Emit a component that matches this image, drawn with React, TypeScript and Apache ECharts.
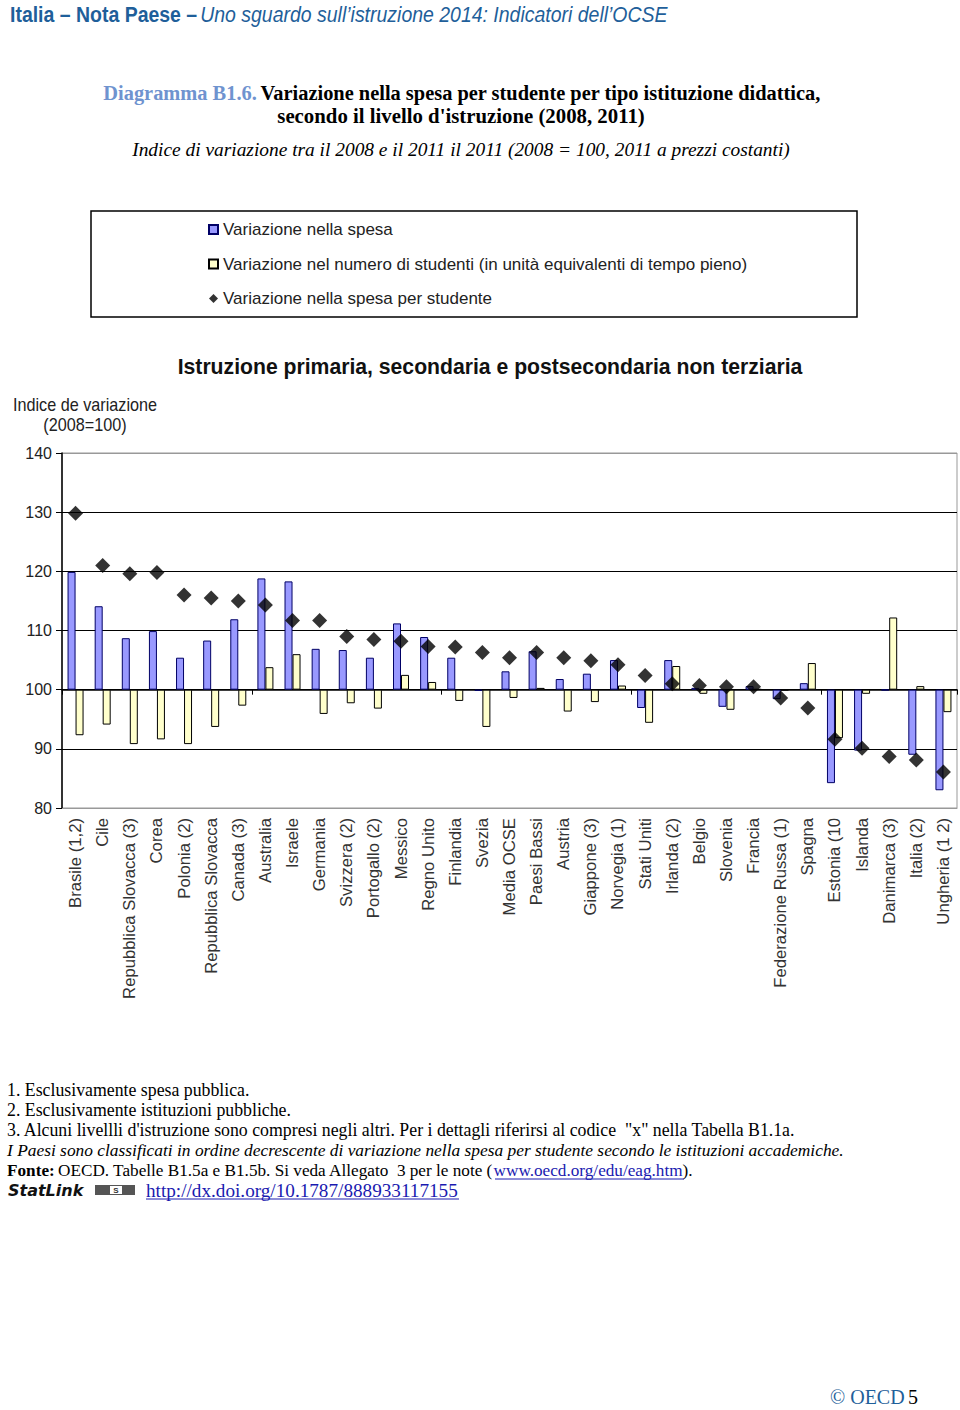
import React, { useEffect, useRef } from "react";
import * as echarts from "echarts";

const categories = [
  "Brasile (1,2)", "Cile", "Repubblica Slovacca (3)", "Corea", "Polonia (2)",
  "Repubblica Slovacca", "Canada (3)", "Australia", "Israele", "Germania",
  "Svizzera (2)", "Portogallo (2)", "Messico", "Regno Unito", "Finlandia",
  "Svezia", "Media OCSE", "Paesi Bassi", "Austria", "Giappone (3)",
  "Norvegia (1)", "Stati Uniti", "Irlanda (2)", "Belgio", "Slovenia",
  "Francia", "Federazione Russa (1)", "Spagna", "Estonia (10", "Islanda",
  "Danimarca (3)", "Italia (2)", "Ungheria (1 2)",
];

const spesa = [
  119.9, 114.1, 108.7, 109.9, 105.4, 108.3, 111.9, 118.8, 118.3, 106.9,
  106.7, 105.4, 111.2, 108.9, 105.4, 99.8, 103.1, 106.5, 101.8, 102.7,
  105.0, 96.9, 105.0, 100.3, 97.1, 100.6, 98.4, 101.1, 84.2, 89.7,
  99.9, 89.0, 83.0,
];

const studenti = [
  92.3, 94.1, 90.8, 91.6, 90.8, 93.7, 97.3, 103.8, 106.0, 95.9,
  97.7, 96.8, 102.5, 101.3, 98.1, 93.7, 98.6, 100.3, 96.3, 97.9,
  100.7, 94.4, 104.0, 99.3, 96.6, 100.1, 99.9, 104.5, 91.8, 99.3,
  112.2, 100.6, 96.2,
];

const perStudente = [
  129.8, 121.0, 119.6, 119.8, 116.0, 115.5, 115.0, 114.3, 111.7, 111.7,
  109.0, 108.5, 108.2, 107.3, 107.2, 106.3, 105.4, 106.3, 105.4, 104.9,
  104.2, 102.4, 101.0, 100.7, 100.5, 100.5, 98.6, 96.9, 91.6, 90.1,
  88.7, 88.1, 86.1,
];

const seriesNames = [
  "Variazione nella spesa",
  "Variazione nel numero di studenti (in unità equivalenti di tempo pieno)",
  "Variazione nella spesa per studente",
];

const BASE = 100;
const yTicks = [80, 90, 100, 110, 120, 130, 140];

const footnotes = [
  "1. Esclusivamente spesa pubblica.",
  "2. Esclusivamente istituzioni pubbliche.",
  "3. Alcuni livellli d'istruzione sono compresi negli altri. Per i dettagli riferirsi al codice  \"x\" nella Tabella B1.1a.",
];
const noteItalic =
  "I Paesi sono classificati in ordine decrescente di variazione nella spesa per studente secondo le istituzioni accademiche.";

const SANS = "'Liberation Sans', Arial, sans-serif";
const SERIF = "'Liberation Serif', 'Times New Roman', serif";
const BLUE = "#1f5f9a";
const LINK = "#1a1ab0";

export default function App() {
  const ref = useRef<HTMLDivElement>(null);

  useEffect(() => {
    if (!ref.current) return;
    const chart = echarts.init(ref.current, undefined, { renderer: "svg" });

    const delta = (arr: number[]) => arr.map((v) => +(v - BASE).toFixed(2));

    const graphic: any[] = [
      {
        type: "text",
        x: 10,
        y: 14,
        scaleX: 0.885,
        style: {
          text: "{b|Italia – Nota Paese –} {i|Uno sguardo sull’istruzione 2014: Indicatori dell’OCSE}",
          textVerticalAlign: "middle",
          rich: {
            b: { fontFamily: SANS, fontWeight: "bold", fontSize: 22, fill: BLUE },
            i: { fontFamily: SANS, fontStyle: "italic", fontSize: 22, fill: BLUE },
          },
        },
      },
      {
        type: "text",
        x: 462,
        y: 93,
        style: {
          text: "{a|Diagramma B1.6.} {b|Variazione nella spesa per studente per tipo istituzione didattica,}",
          textAlign: "center",
          textVerticalAlign: "middle",
          rich: {
            a: { fontFamily: SERIF, fontWeight: "bold", fontSize: 20.4, fill: "#6f93cf" },
            b: { fontFamily: SERIF, fontWeight: "bold", fontSize: 20.4, fill: "#000" },
          },
        },
      },
      {
        type: "text",
        x: 461,
        y: 115,
        style: {
          text: "secondo il livello d'istruzione (2008, 2011)",
          textAlign: "center",
          textVerticalAlign: "middle",
          font: `bold 20.8px ${SERIF}`,
          fill: "#000",
        },
      },
      {
        type: "text",
        x: 461,
        y: 149,
        style: {
          text: "Indice di variazione tra il 2008 e il 2011 il 2011 (2008 = 100, 2011 a prezzi costanti)",
          textAlign: "center",
          textVerticalAlign: "middle",
          font: `italic 19.4px ${SERIF}`,
          fill: "#000",
        },
      },
      {
        type: "rect",
        shape: { x: 91, y: 211, width: 766, height: 106 },
        style: { fill: "none", stroke: "#000", lineWidth: 1.5 },
      },
      {
        type: "text",
        x: 490,
        y: 366,
        scaleX: 0.963,
        style: {
          text: "Istruzione primaria, secondaria e postsecondaria non terziaria",
          textAlign: "center",
          textVerticalAlign: "middle",
          font: `bold 22px ${SANS}`,
          fill: "#111",
        },
      },
      {
        type: "text",
        x: 85,
        y: 405,
        scaleX: 0.9,
        style: {
          text: "Indice de variazione",
          textAlign: "center",
          textVerticalAlign: "middle",
          font: `18px ${SANS}`,
          fill: "#222",
        },
      },
      {
        type: "text",
        x: 85,
        y: 425,
        scaleX: 0.9,
        style: {
          text: "(2008=100)",
          textAlign: "center",
          textVerticalAlign: "middle",
          font: `18px ${SANS}`,
          fill: "#222",
        },
      },
    ];

    footnotes.forEach((t, i) => {
      graphic.push({
        type: "text",
        x: 7,
        y: 1090 + i * 20,
        style: { text: t, textVerticalAlign: "middle", font: `17.8px ${SERIF}`, fill: "#000" },
      });
    });
    graphic.push({
      type: "text",
      x: 7,
      y: 1150,
      style: { text: noteItalic, textVerticalAlign: "middle", font: `italic 17.4px ${SERIF}`, fill: "#000" },
    });
    graphic.push({
      type: "text",
      x: 7,
      y: 1170,
      style: {
        text: "{b|Fonte:} {n|OECD. Tabelle B1.5a e B1.5b. Si veda Allegato  3 per le note (}{l|www.oecd.org/edu/eag.htm}{n|).}",
        textVerticalAlign: "middle",
        rich: {
          b: { fontFamily: SERIF, fontWeight: "bold", fontSize: 17.2, fill: "#000" },
          n: { fontFamily: SERIF, fontSize: 17.2, fill: "#000" },
          l: { fontFamily: SERIF, fontSize: 17.2, fill: LINK },
        },
      },
    });
    graphic.push({
      type: "line",
      shape: { x1: 495, y1: 1179, x2: 684, y2: 1179 },
      style: { stroke: LINK, lineWidth: 1 },
    });
    graphic.push({
      type: "text",
      x: 8,
      y: 1190,
      style: { text: "StatLink", textVerticalAlign: "middle", font: `italic bold 16px 'DejaVu Sans', sans-serif`, fill: "#111" },
    });
    graphic.push({
      type: "group",
      children: [
        { type: "rect", shape: { x: 95, y: 1185, width: 40, height: 10 }, style: { fill: "#555" } },
        { type: "rect", shape: { x: 110, y: 1186, width: 12, height: 8 }, style: { fill: "#fff" } },
        {
          type: "text",
          x: 116,
          y: 1190,
          style: { text: "S", textAlign: "center", textVerticalAlign: "middle", font: `bold 8px ${SANS}`, fill: "#333" },
        },
      ],
    });
    graphic.push({
      type: "text",
      x: 146,
      y: 1190,
      style: {
        text: "http://dx.doi.org/10.1787/888933117155",
        textVerticalAlign: "middle",
        font: `19.2px ${SERIF}`,
        fill: LINK,
      },
    });
    graphic.push({
      type: "line",
      shape: { x1: 146, y1: 1199, x2: 459, y2: 1199 },
      style: { stroke: LINK, lineWidth: 1 },
    });
    graphic.push({
      type: "text",
      x: 830,
      y: 1397,
      style: {
        text: "{a|© OECD} {b|5}",
        textVerticalAlign: "middle",
        rich: {
          a: { fontFamily: SERIF, fontSize: 20, fill: BLUE },
          b: { fontFamily: SERIF, fontSize: 20, fill: "#000" },
        },
      },
    });

    chart.setOption({
      animation: false,
      backgroundColor: "#fff",
      graphic,
      legend: {
        orient: "vertical",
        left: 203,
        top: 216,
        itemGap: 17.5,
        itemWidth: 9,
        itemHeight: 9,
        textStyle: { fontFamily: SANS, fontSize: 17, color: "#222" },
        data: [
          { name: seriesNames[0], icon: "rect" },
          { name: seriesNames[1], icon: "rect" },
          { name: seriesNames[2], icon: "diamond" },
        ],
      },
      grid: {
        left: 62,
        right: 3,
        top: 453,
        bottom: 602,
        show: true,
        borderColor: "#999",
        borderWidth: 1,
      },
      xAxis: [
        {
          type: "category",
          data: categories,
          position: "bottom",
          axisLine: { onZero: false, lineStyle: { color: "#999" } },
          axisTick: { show: false },
          axisLabel: {
            rotate: 90,
            interval: 0,
            margin: 10,
            fontFamily: SANS,
            fontSize: 16.7,
            color: "#333",
          },
        },
        {
          type: "category",
          data: categories,
          position: "bottom",
          axisLine: { onZero: true, lineStyle: { color: "#000", width: 1.5 } },
          axisTick: { show: true, length: 5, lineStyle: { color: "#000" } },
          axisLabel: { show: false },
        },
      ],
      yAxis: {
        type: "value",
        min: yTicks[0] - BASE,
        max: yTicks[yTicks.length - 1] - BASE,
        interval: 10,
        axisLine: { show: true, lineStyle: { color: "#000", width: 1.5 } },
        axisTick: { show: true, length: 6, lineStyle: { color: "#000" } },
        axisLabel: {
          formatter: (v: number) => String(v + BASE),
          fontFamily: SANS,
          fontSize: 16,
          color: "#222",
          margin: 10,
        },
        splitLine: {
          show: true,
          lineStyle: {
            color: yTicks.map((t, i) => (i === 0 || i === yTicks.length - 1 ? "#999" : "#000")),
            width: 1.2,
          },
        },
      },
      series: [
        {
          name: seriesNames[0],
          type: "bar",
          xAxisIndex: 0,
          data: delta(spesa),
          barWidth: 8,
          barGap: "0%",
          itemStyle: { color: "#9999ff", borderColor: "#000066", borderWidth: 1 },
        },
        {
          name: seriesNames[1],
          type: "bar",
          xAxisIndex: 0,
          data: delta(studenti),
          barWidth: 8,
          barGap: "0%",
          itemStyle: { color: "#ffffcc", borderColor: "#000", borderWidth: 1 },
        },
        {
          name: seriesNames[2],
          type: "scatter",
          xAxisIndex: 0,
          data: delta(perStudente),
          symbol: "diamond",
          symbolSize: 15,
          itemStyle: { color: "#000" },
          z: 5,
        },
      ],
    });

    return () => chart.dispose();
  }, []);

  return (
    <div
      ref={ref}
      style={{ position: "absolute", left: 0, top: 0, width: 960, height: 1410 }}
    />
  );
}
